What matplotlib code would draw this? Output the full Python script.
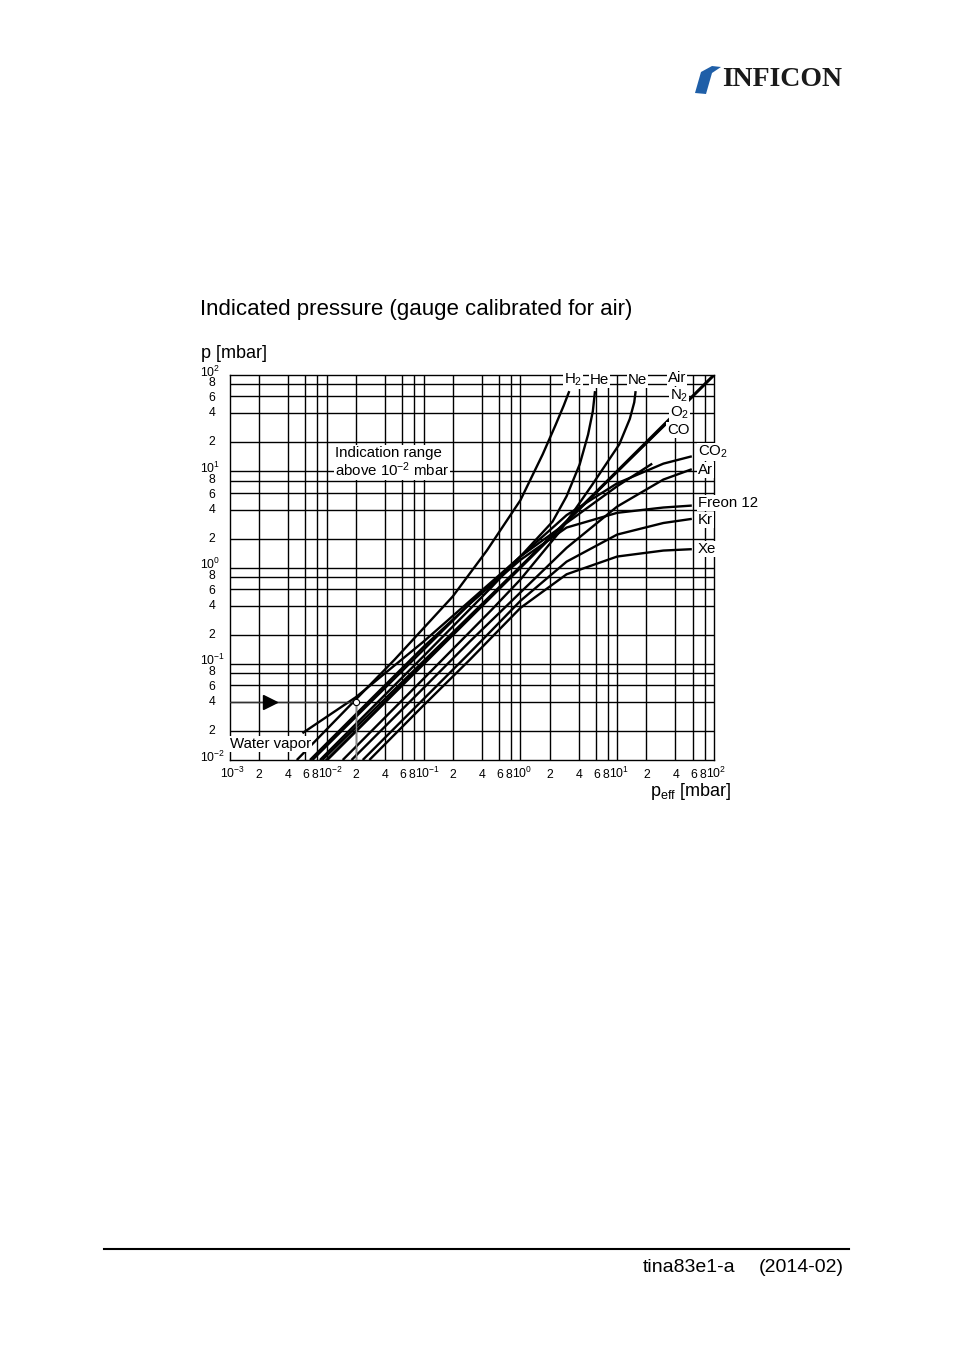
import matplotlib
matplotlib.use("Agg")
import matplotlib.pyplot as plt
import numpy as np
from matplotlib.patches import Polygon

plt.rcParams['font.family'] = ['Liberation Sans', 'DejaVu Sans']
plt.rcParams['mathtext.fontset'] = 'custom'
plt.rcParams['mathtext.rm'] = 'Liberation Sans'
plt.rcParams['mathtext.it'] = 'Liberation Sans'

# ---- data (p_eff, p_indicated) ----
h2_x = [0.0049, 0.05, 0.2, 0.45, 1.0, 1.7, 2.3, 2.8, 3.2]
h2_y = [0.01, 0.11, 0.5, 1.5, 5.0, 15, 30, 48, 68]
he_x = [0.0085, 0.1, 0.5, 1.0, 2.15, 3.0, 4.1, 5.0, 5.6, 5.9]
he_y = [0.01, 0.12, 0.62, 1.3, 3.0, 5.5, 11.8, 24, 42, 68]
ne_x = [0.0146, 0.1, 0.5, 1.0, 2.5, 5.5, 10.5, 13.5, 15.0, 15.5]
ne_y = [0.01, 0.07, 0.36, 0.75, 2.3, 7.2, 19, 35, 52, 68]
air_x = [0.01, 100]
air_y = [0.01, 100]
o2_x = [0.009, 32]
o2_y = [0.01, 31]
co2_x = [0.0071, 0.1, 0.3, 1.0, 3.0, 10, 30, 59]
co2_y = [0.01, 0.14, 0.42, 1.3, 3.5, 7.5, 12, 14.3]
ar_x = [0.018, 0.1, 0.3, 1.0, 3.0, 10, 30, 59]
ar_y = [0.01, 0.056, 0.17, 0.55, 1.6, 4.3, 8.2, 10.5]
freon_x = [0.0067, 0.03, 0.1, 0.3, 1.0, 3.0, 10, 30, 59]
freon_y = [0.01, 0.045, 0.15, 0.42, 1.2, 2.6, 3.7, 4.2, 4.4]
kr_x = [0.0235, 0.1, 0.3, 1.0, 3.0, 10, 30, 59]
kr_y = [0.01, 0.043, 0.13, 0.45, 1.15, 2.2, 2.9, 3.2]
xe_x = [0.0275, 0.1, 0.3, 1.0, 3.0, 10, 30, 59]
xe_y = [0.01, 0.037, 0.11, 0.38, 0.85, 1.3, 1.5, 1.55]
wv_x = [0.0056, 0.02, 0.1, 1.0, 10, 23]
wv_y = [0.019, 0.045, 0.17, 1.3, 7.0, 12]

grid_mult = [1, 2, 4, 6, 8]
x_decades = [-3, -2, -1, 0, 1, 2]
y_decades = [-2, -1, 0, 1, 2]

fig = plt.figure(figsize=(9.54, 13.48), dpi=100)
ax = fig.add_axes([230/954, 1-760/1348, 484/954, 385/1348])
ax.set_xscale('log'); ax.set_yscale('log')
ax.set_xlim(1e-3, 1e2); ax.set_ylim(1e-2, 1e2)
for d in x_decades:
    for m in grid_mult:
        v = m * 10.0**d
        if 1e-3 < v < 1e2:
            ax.axvline(v, color='black', lw=1.0, zorder=1)
for d in y_decades:
    for m in grid_mult:
        v = m * 10.0**d
        if 1e-2 < v < 1e2:
            ax.axhline(v, color='black', lw=1.0, zorder=1)
for s in ax.spines.values():
    s.set_linewidth(1.0)
ax.set_xticks([]); ax.set_yticks([])
ax.minorticks_off()

lw = 1.7
for xs, ys in [(h2_x, h2_y), (he_x, he_y), (ne_x, ne_y), (o2_x, o2_y),
               (co2_x, co2_y), (ar_x, ar_y), (freon_x, freon_y), (kr_x, kr_y),
               (xe_x, xe_y), (wv_x, wv_y)]:
    ax.plot(xs, ys, color='black', lw=lw, zorder=3, solid_capstyle='butt')
ax.plot(air_x, air_y, color='black', lw=2.2, zorder=3)

# example: arrow and marked point
ax.plot([1e-3, 0.02], [0.04, 0.04], color='#333333', lw=1.0, zorder=4)
ax.plot([0.02, 0.02], [0.01, 0.04], color='#888888', lw=1.0, zorder=4)
ax.plot([0.0026], [0.04], marker='>', color='black', markersize=10, zorder=5)
ax.plot([0.02], [0.04], marker='o', mfc='white', mec='black', markersize=4.5, mew=0.8, zorder=6)

bb = dict(facecolor='white', edgecolor='none', pad=0.5)
def lab(x, y, s, ha='left', size=10.8):
    fig.text(x/954, 1-y/1348, s, ha=ha, va='center', fontsize=size, bbox=bb, zorder=10)

lab(564, 380, r'H$_2$')
lab(590, 380, 'He')
lab(628, 380, 'Ne')
lab(668, 378, 'Air')
lab(670, 396, r'N$_2$')
lab(670, 413, r'O$_2$')
lab(667, 430, 'CO')
lab(698, 452, r'CO$_2$')
lab(698, 470, 'Ar')
lab(698, 503, 'Freon 12')
lab(698, 520, 'Kr')
lab(698, 549, 'Xe')
lab(230, 744, 'Water vapor')
fig.text(335/954, 1-453/1348, 'Indication range', fontsize=10.8, va='center', bbox=bb, zorder=10)
fig.text(335/954, 1-470/1348, r'above 10$^{-2}$ mbar', fontsize=10.8, va='center', bbox=bb, zorder=10)

def xlabel_pos(v):
    return 230 + 97 * (np.log10(v) + 3)
def ylabel_pos(v):
    return 760 - 96.25 * (np.log10(v) + 2)
for d in x_decades:
    for m in grid_mult:
        v = m * 10.0**d
        if v > 1e2 + 1:
            continue
        px = xlabel_pos(v)
        if m == 1:
            s = r'10$^{%d}$' % d
            x0 = px - 9 if d > -3 else px - 10
            fig.text(x0/954, 1-773/1348, s, ha='left', va='center', fontsize=8.8)
        else:
            fig.text((px - (3 if m == 8 else 0))/954, 1-775/1348, str(m), ha='center', va='center', fontsize=8.8)
for d in y_decades:
    for m in grid_mult:
        v = m * 10.0**d
        if v > 1e2 + 1:
            continue
        py = ylabel_pos(v)
        if m == 1:
            s = r'10$^{%d}$' % d
            fig.text(200/954, 1-(py - 3)/1348, s, ha='left', va='center', fontsize=8.8)
        else:
            dy = {8: -1, 6: 2}.get(m, 0)
            fig.text(212/954, 1-(py + dy)/1348, str(m), ha='center', va='center', fontsize=8.8)

fig.text(200/954, 1-310/1348, 'Indicated pressure (gauge calibrated for air)', fontsize=16, va='center')
fig.text(201/954, 1-353/1348, 'p [mbar]', fontsize=13, va='center')
fig.text(650/954, 1-792/1348, r'p$_{\mathrm{eff}}$ [mbar]', fontsize=13, va='center')

fig.text(722/954, 1-79/1348, 'INFICON', fontsize=20, family='Liberation Serif', fontweight='bold',
         color='#1a1a1a', va='center')
fig.patches.append(Polygon([[695/954, 1-93/1348], [701/954, 1-72/1348], [712/954, 1-66/1348],
                            [721/954, 1-67/1348], [712/954, 1-73/1348], [706/954, 1-94/1348]],
                           closed=True, transform=fig.transFigure, facecolor='#1f5fa8', edgecolor='none'))

fig.add_artist(plt.Line2D([104/954, 849/954], [1-1249/1348, 1-1249/1348], color='black', lw=1.5))
fig.text(643/954, 1-1268/1348, 'tina83e1-a', fontsize=14, va='center')
fig.text(844/954, 1-1268/1348, '(2014-02)', fontsize=14, va='center', ha='right')

fig.savefig('out.png', dpi=100)
